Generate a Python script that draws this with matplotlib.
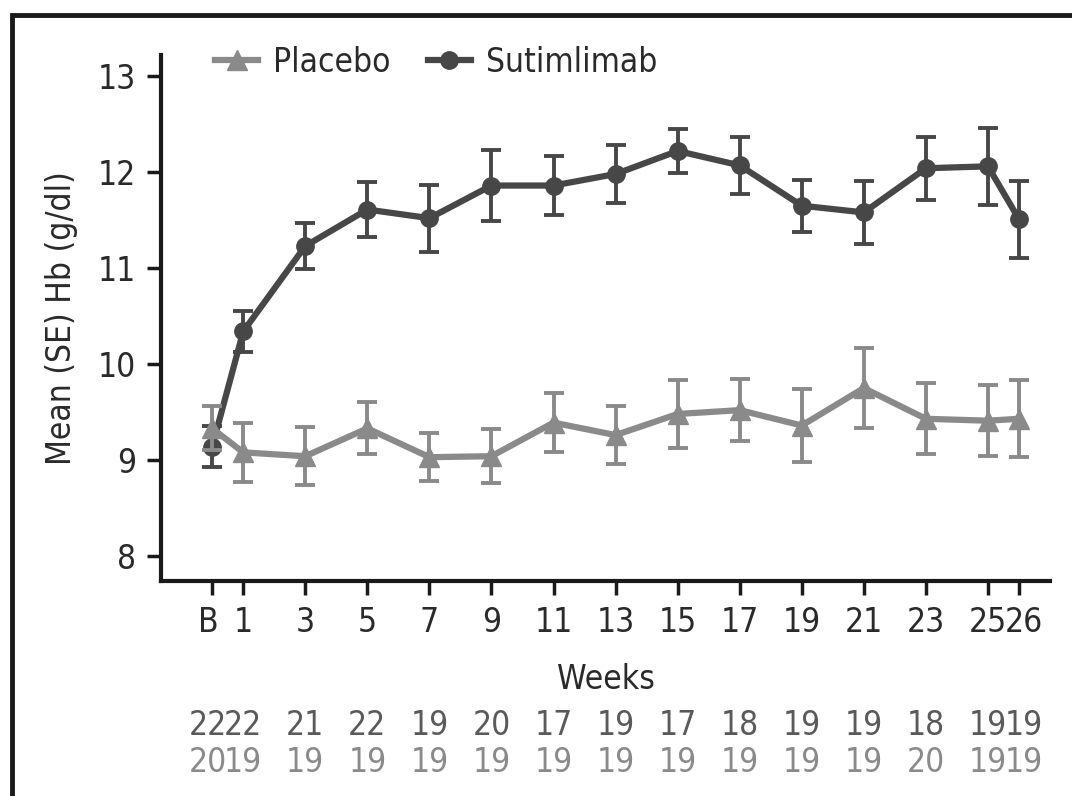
import matplotlib
matplotlib.use("Agg")
import matplotlib.pyplot as plt
from matplotlib.lines import Line2D
from matplotlib.patches import Rectangle
from matplotlib.transforms import offset_copy

plt.rcParams['font.family'] = ['DejaVu Sans']
plt.rcParams['font.stretch'] = 'condensed'

weeks = [0, 1, 3, 5, 7, 9, 11, 13, 15, 17, 19, 21, 23, 25, 26]
tick_labels = ["B", "1", "3", "5", "7", "9", "11", "13", "15", "17", "19", "21", "23", "25", "26"]

suti_mean = [9.14, 10.34, 11.23, 11.61, 11.52, 11.86, 11.86, 11.98, 12.22, 12.07, 11.65, 11.58, 12.04, 12.06, 11.51]
suti_se = [0.21, 0.21, 0.24, 0.29, 0.35, 0.37, 0.31, 0.30, 0.23, 0.30, 0.27, 0.33, 0.33, 0.40, 0.40]

plac_mean = [9.33, 9.08, 9.04, 9.33, 9.03, 9.04, 9.39, 9.26, 9.48, 9.52, 9.36, 9.75, 9.43, 9.41, 9.43]
plac_se = [0.23, 0.31, 0.30, 0.27, 0.25, 0.28, 0.31, 0.30, 0.35, 0.32, 0.38, 0.42, 0.37, 0.37, 0.40]

n_suti = ["22", "22", "21", "22", "19", "20", "17", "19", "17", "18", "19", "19", "18", "19", "19"]
n_plac = ["20", "19", "19", "19", "19", "19", "19", "19", "19", "19", "19", "19", "20", "19", "19"]

dark = "#474747"
light = "#8a8a8a"
fs = 24

fig = plt.figure(figsize=(10.72, 7.96), dpi=100)
ax = fig.add_axes([161/1072, 1-581/796, (1050-161)/1072, (581-55)/796])

ax.errorbar(weeks, plac_mean, yerr=plac_se, color=light, lw=4.5, marker="^", ms=15,
            elinewidth=2.8, capsize=7.5, capthick=2.8, zorder=3, label="Placebo")
ax.errorbar(weeks, suti_mean, yerr=suti_se, color=dark, lw=4.5, marker="o", ms=12.5,
            elinewidth=2.8, capsize=7.5, capthick=2.8, zorder=2, label="Sutimlimab")

ax.set_xlim(-1.65, 27.0)
ax.set_ylim(7.74, 13.22)
ax.set_yticks([8, 9, 10, 11, 12, 13])
ax.set_xticks(weeks)
ax.set_xticklabels(tick_labels)
for s in ["top", "right"]:
    ax.spines[s].set_visible(False)
for s in ["left", "bottom"]:
    ax.spines[s].set_linewidth(3)
    ax.spines[s].set_color("#1a1a1a")
ax.tick_params(axis="both", direction="out", length=10, width=2.5, color="#1a1a1a",
               labelsize=fs, labelcolor="#2a2a2a", pad=8)
ax.set_xlabel("Weeks", fontsize=fs, color="#2a2a2a", labelpad=17)
ax.set_ylabel("Mean (SE) Hb (g/dl)", fontsize=fs, color="#2a2a2a", labelpad=14)

# small horizontal nudges for the crowded end columns (pixels)
nudge = {0: -4, len(weeks) - 1: 5}
xt = ax.get_xticklabels()
for i, lab in enumerate(xt):
    if i in nudge:
        lab.set_transform(lab.get_transform() + matplotlib.transforms.Affine2D().translate(nudge[i], 0))

trans = ax.get_xaxis_transform()
for i, (w, a, b) in enumerate(zip(weeks, n_suti, n_plac)):
    tr = offset_copy(trans, fig=fig, x=nudge.get(i, 0), y=0, units="dots")
    ax.text(w, -0.275, a, transform=tr, ha="center", va="center", fontsize=fs, color="#5a5a5a", clip_on=False)
    ax.text(w, -0.345, b, transform=tr, ha="center", va="center", fontsize=fs, color="#8a8a8a", clip_on=False)

handles = [Line2D([0], [0], color=light, lw=4.5, marker="^", ms=15),
           Line2D([0], [0], color=dark, lw=4.5, marker="o", ms=12.5)]
ax.legend(handles, ["Placebo", "Sutimlimab"], loc="upper left", bbox_to_anchor=(0.027, 1.075),
          ncol=2, frameon=False, fontsize=fs, handlelength=1.3, columnspacing=1.1,
          handletextpad=0.45, labelcolor="#2a2a2a")

fig.add_artist(Rectangle((12/1072, -0.1), 1.2, 1-15/796 + 0.1, transform=fig.transFigure,
                         fill=False, lw=3.5, ec="#1a1a1a"))

fig.savefig("out.png", dpi=100)
